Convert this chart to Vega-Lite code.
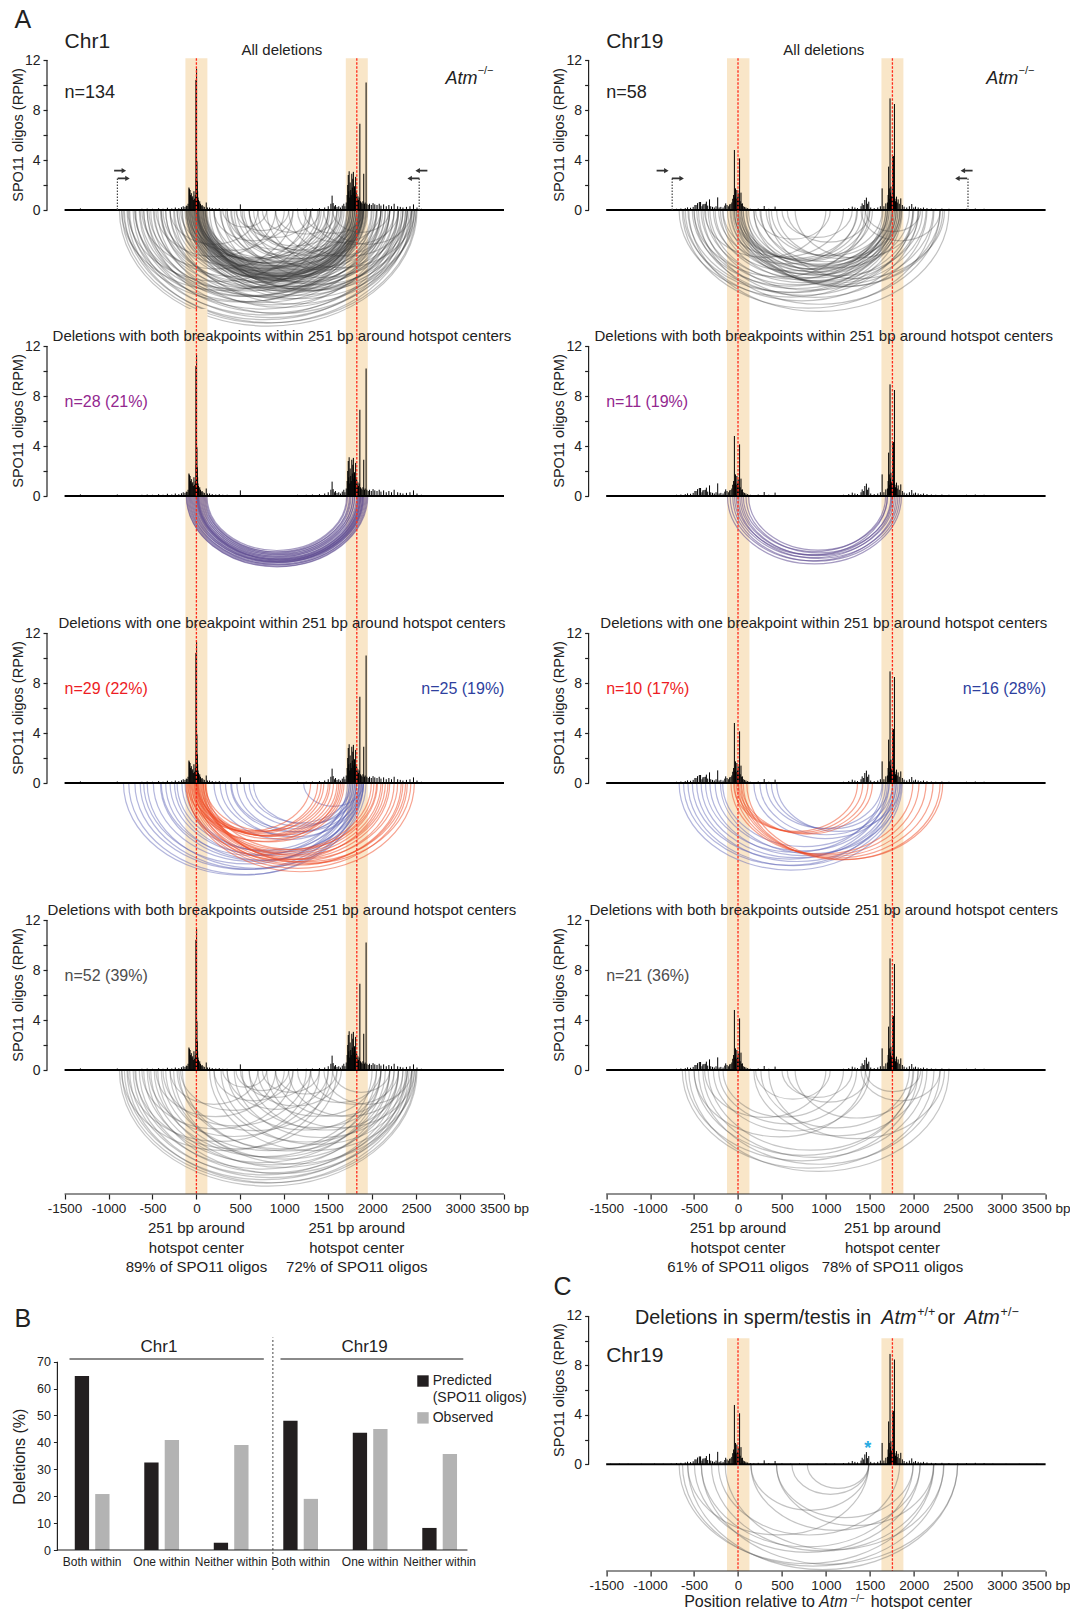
{
"$schema": "https://vega.github.io/schema/vega-lite/v6.json",
"background": "white",
"padding": {"left": 10, "top": 8, "right": 0, "bottom": 0},
"config": {"view": {"stroke": null}, "font": "Liberation Sans", "text": {"color": "#222"}},
"bounds": "flush",
"align": "each",
"columns": 2,
"spacing": {"row": 0, "column": 84.6},
"datasets": {
"bands1": [{"lo": -125, "hi": 125}, {"lo": 1700, "hi": 1950}],
"bands19": [{"lo": -125, "hi": 130}, {"lo": 1632, "hi": 1882}],
"ctr1": [{"c": 0}, {"c": 1825}],
"ctr19": [{"c": 0}, {"c": 1757}],
"sp1": [
{"pos":-1450,"v":0.05},{"pos":-1320,"v":0.13},{"pos":-1150,"v":0.05},{"pos":-980,"v":0.08},{"pos":-900,"v":0.12},{"pos":-820,"v":0.06},{"pos":-700,"v":0.08},{"pos":-620,"v":0.1},{"pos":-560,"v":0.12},{"pos":-500,"v":0.1},{"pos":-430,"v":0.15},{"pos":-380,"v":0.1},{"pos":-330,"v":0.18},{"pos":-280,"v":0.12},{"pos":-240,"v":0.2},{"pos":-200,"v":0.15},{"pos":-170,"v":0.22},{"pos":-150,"v":0.3},{"pos":-130,"v":0.25},{"pos":-115,"v":0.35},{"pos":-106,"v":0.32},{"pos":-95,"v":0.5},{"pos":-85,"v":1.8},{"pos":-80,"v":1.7},{"pos":-72,"v":1.6},{"pos":-65,"v":1.2},{"pos":-58,"v":1.35},{"pos":-50,"v":1.0},{"pos":-42,"v":1.1},{"pos":-35,"v":0.8},{"pos":-28,"v":1.5},{"pos":-20,"v":0.9},{"pos":-12,"v":1.2},{"pos":-6,"v":10.4},{"pos":-2,"v":2.5},{"pos":2,"v":11.3},{"pos":6,"v":3.9},{"pos":10,"v":2.3},{"pos":14,"v":1.5},{"pos":18,"v":1.0},{"pos":24,"v":0.8},{"pos":30,"v":0.6},{"pos":38,"v":0.7},{"pos":46,"v":0.5},{"pos":55,"v":0.35},{"pos":65,"v":0.4},{"pos":75,"v":0.3},{"pos":90,"v":0.25},{"pos":112,"v":0.6},{"pos":125,"v":0.2},{"pos":150,"v":0.2},{"pos":180,"v":0.15},{"pos":220,"v":0.12},{"pos":260,"v":0.15},{"pos":300,"v":0.1},{"pos":350,"v":0.1},{"pos":400,"v":0.08},{"pos":500,"v":0.45},{"pos":560,"v":0.08},{"pos":650,"v":0.06},{"pos":750,"v":0.05},{"pos":850,"v":0.08},{"pos":950,"v":0.06},{"pos":1050,"v":0.08},{"pos":1150,"v":0.1},{"pos":1250,"v":0.1},{"pos":1320,"v":0.12},{"pos":1400,"v":0.15},{"pos":1460,"v":0.2},{"pos":1500,"v":0.3},{"pos":1530,"v":0.5},{"pos":1544,"v":1.15},{"pos":1556,"v":0.55},{"pos":1570,"v":0.3},{"pos":1582,"v":0.4},{"pos":1600,"v":0.25},{"pos":1620,"v":0.3},{"pos":1640,"v":0.2},{"pos":1660,"v":0.35},{"pos":1677,"v":0.5},{"pos":1690,"v":0.3},{"pos":1705,"v":0.6},{"pos":1715,"v":1.2},{"pos":1722,"v":2.0},{"pos":1728,"v":2.8},{"pos":1734,"v":1.5},{"pos":1738,"v":3.1},{"pos":1745,"v":1.0},{"pos":1750,"v":2.2},{"pos":1756,"v":1.6},{"pos":1762,"v":1.2},{"pos":1768,"v":2.9},{"pos":1774,"v":1.8},{"pos":1780,"v":2.5},{"pos":1786,"v":3.05},{"pos":1792,"v":1.4},{"pos":1799,"v":1.9},{"pos":1806,"v":1.2},{"pos":1812,"v":2.65},{"pos":1818,"v":1.5},{"pos":1825,"v":1.3},{"pos":1832,"v":0.9},{"pos":1838,"v":1.1},{"pos":1844,"v":0.8},{"pos":1852,"v":1.0},{"pos":1860,"v":6.9},{"pos":1868,"v":0.7},{"pos":1876,"v":0.6},{"pos":1885,"v":0.5},{"pos":1895,"v":0.7},{"pos":1904,"v":2.9},{"pos":1912,"v":0.5},{"pos":1920,"v":0.6},{"pos":1931,"v":10.2},{"pos":1940,"v":0.5},{"pos":1955,"v":0.4},{"pos":1970,"v":0.5},{"pos":1990,"v":0.4},{"pos":2010,"v":0.55},{"pos":2030,"v":0.45},{"pos":2055,"v":0.4},{"pos":2080,"v":0.5},{"pos":2100,"v":0.35},{"pos":2130,"v":0.45},{"pos":2160,"v":0.3},{"pos":2190,"v":0.4},{"pos":2220,"v":0.3},{"pos":2250,"v":0.5},{"pos":2290,"v":0.3},{"pos":2320,"v":0.25},{"pos":2350,"v":0.2},{"pos":2390,"v":0.25},{"pos":2430,"v":0.3},{"pos":2470,"v":0.45},{"pos":2510,"v":0.2},{"pos":2560,"v":0.1},{"pos":2650,"v":0.08},{"pos":2800,"v":0.06},{"pos":2950,"v":0.05},{"pos":3100,"v":0.05},{"pos":3300,"v":0.06},{"pos":3450,"v":0.05}
],
"sp19": [
{"pos":-1450,"v":0.05},{"pos":-1350,"v":0.06},{"pos":-1250,"v":0.05},{"pos":-1100,"v":0.05},{"pos":-950,"v":0.06},{"pos":-850,"v":0.05},{"pos":-760,"v":0.06},{"pos":-700,"v":0.1},{"pos":-650,"v":0.12},{"pos":-600,"v":0.15},{"pos":-574,"v":0.21},{"pos":-540,"v":0.18},{"pos":-510,"v":0.25},{"pos":-490,"v":0.4},{"pos":-477,"v":0.4},{"pos":-460,"v":0.55},{"pos":-440,"v":0.64},{"pos":-426,"v":0.64},{"pos":-410,"v":0.3},{"pos":-400,"v":0.45},{"pos":-387,"v":0.48},{"pos":-372,"v":0.5},{"pos":-360,"v":0.67},{"pos":-345,"v":0.35},{"pos":-324,"v":0.85},{"pos":-310,"v":0.3},{"pos":-290,"v":0.25},{"pos":-270,"v":0.2},{"pos":-250,"v":0.3},{"pos":-231,"v":1.01},{"pos":-215,"v":0.2},{"pos":-195,"v":0.25},{"pos":-170,"v":0.2},{"pos":-150,"v":0.35},{"pos":-140,"v":0.53},{"pos":-125,"v":0.4},{"pos":-110,"v":0.3},{"pos":-95,"v":0.45},{"pos":-81,"v":0.48},{"pos":-70,"v":0.6},{"pos":-60,"v":0.9},{"pos":-50,"v":1.2},{"pos":-41,"v":4.8},{"pos":-35,"v":1.0},{"pos":-29,"v":1.73},{"pos":-22,"v":0.9},{"pos":-13,"v":1.6},{"pos":-6,"v":1.0},{"pos":3,"v":1.33},{"pos":10,"v":0.8},{"pos":18,"v":4.13},{"pos":25,"v":0.7},{"pos":34,"v":1.39},{"pos":42,"v":0.5},{"pos":50,"v":0.53},{"pos":60,"v":0.3},{"pos":75,"v":0.25},{"pos":90,"v":0.2},{"pos":110,"v":0.15},{"pos":140,"v":0.1},{"pos":180,"v":0.08},{"pos":230,"v":0.12},{"pos":298,"v":0.32},{"pos":350,"v":0.1},{"pos":422,"v":0.27},{"pos":500,"v":0.08},{"pos":600,"v":0.06},{"pos":700,"v":0.08},{"pos":800,"v":0.06},{"pos":900,"v":0.05},{"pos":1000,"v":0.08},{"pos":1100,"v":0.06},{"pos":1200,"v":0.1},{"pos":1260,"v":0.15},{"pos":1300,"v":0.27},{"pos":1330,"v":0.2},{"pos":1360,"v":0.15},{"pos":1400,"v":0.3},{"pos":1413,"v":0.53},{"pos":1430,"v":0.4},{"pos":1443,"v":0.8},{"pos":1461,"v":0.99},{"pos":1475,"v":0.5},{"pos":1488,"v":0.67},{"pos":1510,"v":0.2},{"pos":1550,"v":0.15},{"pos":1590,"v":0.2},{"pos":1620,"v":0.3},{"pos":1640,"v":1.73},{"pos":1660,"v":0.3},{"pos":1682,"v":0.53},{"pos":1700,"v":0.6},{"pos":1708,"v":1.2},{"pos":1714,"v":3.47},{"pos":1721,"v":1.73},{"pos":1727,"v":0.9},{"pos":1730,"v":8.93},{"pos":1735,"v":1.4},{"pos":1740,"v":1.87},{"pos":1746,"v":1.1},{"pos":1752,"v":0.8},{"pos":1760,"v":4.27},{"pos":1766,"v":1.3},{"pos":1770,"v":4.32},{"pos":1775,"v":1.0},{"pos":1780,"v":8.48},{"pos":1786,"v":0.9},{"pos":1792,"v":0.7},{"pos":1803,"v":1.07},{"pos":1812,"v":0.6},{"pos":1822,"v":0.85},{"pos":1835,"v":0.5},{"pos":1852,"v":0.93},{"pos":1870,"v":0.4},{"pos":1890,"v":0.27},{"pos":1920,"v":0.2},{"pos":1950,"v":0.3},{"pos":1977,"v":0.48},{"pos":2000,"v":0.2},{"pos":2020,"v":0.27},{"pos":2050,"v":0.2},{"pos":2080,"v":0.15},{"pos":2110,"v":0.2},{"pos":2150,"v":0.15},{"pos":2200,"v":0.12},{"pos":2250,"v":0.1},{"pos":2320,"v":0.12},{"pos":2400,"v":0.1},{"pos":2500,"v":0.08},{"pos":2600,"v":0.1},{"pos":2700,"v":0.12},{"pos":2800,"v":0.1},{"pos":2900,"v":0.06},{"pos":3050,"v":0.05},{"pos":3200,"v":0.05},{"pos":3400,"v":0.05}
],
"arc1": [
{"cat":"both","start":-115,"len":2065},{"cat":"both","start":-110,"len":2050},{"cat":"both","start":-100,"len":2020},{"cat":"both","start":-90,"len":1990},{"cat":"both","start":-80,"len":1950},{"cat":"both","start":-70,"len":2000},{"cat":"both","start":-60,"len":1910},{"cat":"both","start":-50,"len":1940},{"cat":"both","start":-40,"len":1920},{"cat":"both","start":-30,"len":1890},{"cat":"both","start":-20,"len":1930},{"cat":"both","start":-10,"len":1850},{"cat":"both","start":0,"len":1900},{"cat":"both","start":5,"len":1825},{"cat":"both","start":10,"len":1860},{"cat":"both","start":15,"len":1785},{"cat":"both","start":20,"len":1870},{"cat":"both","start":25,"len":1835},{"cat":"both","start":30,"len":1750},{"cat":"both","start":40,"len":1800},{"cat":"both","start":50,"len":1710},{"cat":"both","start":60,"len":1760},{"cat":"both","start":70,"len":1670},{"cat":"both","start":80,"len":1720},{"cat":"both","start":90,"len":1630},{"cat":"both","start":100,"len":1680},{"cat":"both","start":110,"len":1640},{"cat":"both","start":120,"len":1590},
{"cat":"red","start":-100,"len":1400},{"cat":"red","start":-60,"len":1440},{"cat":"red","start":-20,"len":1470},{"cat":"red","start":0,"len":1520},{"cat":"red","start":20,"len":1540},{"cat":"red","start":50,"len":1550},{"cat":"red","start":80,"len":1560},{"cat":"red","start":-40,"len":1720},{"cat":"red","start":10,"len":1410},{"cat":"red","start":100,"len":1400},{"cat":"red","start":-80,"len":1700},{"cat":"red","start":30,"len":1630},{"cat":"red","start":-110,"len":2590},{"cat":"red","start":-90,"len":2490},{"cat":"red","start":-70,"len":2400},{"cat":"red","start":-50,"len":2300},{"cat":"red","start":-30,"len":2230},{"cat":"red","start":-10,"len":2160},{"cat":"red","start":0,"len":2100},{"cat":"red","start":10,"len":2050},{"cat":"red","start":20,"len":2000},{"cat":"red","start":40,"len":1950},{"cat":"red","start":60,"len":2230},{"cat":"red","start":80,"len":2300},{"cat":"red","start":100,"len":2340},{"cat":"red","start":-120,"len":2240},{"cat":"red","start":70,"len":2110},{"cat":"red","start":110,"len":1940},{"cat":"red","start":-20,"len":2370},
{"cat":"blue","start":-830,"len":2690},{"cat":"blue","start":-770,"len":2670},{"cat":"blue","start":-700,"len":2520},{"cat":"blue","start":-640,"len":2520},{"cat":"blue","start":-600,"len":2360},{"cat":"blue","start":-560,"len":2490},{"cat":"blue","start":-490,"len":2290},{"cat":"blue","start":-410,"len":2260},{"cat":"blue","start":-400,"len":2120},{"cat":"blue","start":-350,"len":2250},{"cat":"blue","start":-300,"len":2080},{"cat":"blue","start":-250,"len":2120},{"cat":"blue","start":-220,"len":1960},{"cat":"blue","start":-165,"len":1985},{"cat":"blue","start":-130,"len":2030},{"cat":"blue","start":200,"len":1650},{"cat":"blue","start":270,"len":1510},{"cat":"blue","start":330,"len":1570},{"cat":"blue","start":390,"len":1430},{"cat":"blue","start":400,"len":1340},{"cat":"blue","start":460,"len":1420},{"cat":"blue","start":540,"len":1260},{"cat":"blue","start":600,"len":1160},{"cat":"blue","start":650,"len":1200},{"cat":"blue","start":1220,"len":680},
{"cat":"neither","start":-876,"len":3387},{"cat":"neither","start":-850,"len":3300},{"cat":"neither","start":-820,"len":3200},{"cat":"neither","start":-790,"len":3290},{"cat":"neither","start":-760,"len":3060},{"cat":"neither","start":-720,"len":3140},{"cat":"neither","start":-690,"len":2890},{"cat":"neither","start":-650,"len":3000},{"cat":"neither","start":-600,"len":2700},{"cat":"neither","start":-560,"len":3020},{"cat":"neither","start":-520,"len":2770},{"cat":"neither","start":-480,"len":2530},{"cat":"neither","start":-440,"len":2840},{"cat":"neither","start":-400,"len":2550},{"cat":"neither","start":-350,"len":2350},{"cat":"neither","start":-300,"len":2600},{"cat":"neither","start":-260,"len":2740},{"cat":"neither","start":-200,"len":2300},{"cat":"neither","start":-160,"len":2360},{"cat":"neither","start":-850,"len":2350},{"cat":"neither","start":-780,"len":2080},{"cat":"neither","start":-700,"len":2300},{"cat":"neither","start":-620,"len":1720},{"cat":"neither","start":-540,"len":1940},{"cat":"neither","start":-460,"len":1360},{"cat":"neither","start":-380,"len":1630},{"cat":"neither","start":-300,"len":1000},{"cat":"neither","start":-220,"len":1770},{"cat":"neither","start":-180,"len":1180},{"cat":"neither","start":150,"len":2350},{"cat":"neither","start":200,"len":2100},{"cat":"neither","start":280,"len":2170},{"cat":"neither","start":350,"len":1750},{"cat":"neither","start":430,"len":1970},{"cat":"neither","start":520,"len":1680},{"cat":"neither","start":600,"len":1750},{"cat":"neither","start":700,"len":1350},{"cat":"neither","start":800,"len":1680},{"cat":"neither","start":900,"len":1350},{"cat":"neither","start":1050,"len":1350},{"cat":"neither","start":1150,"len":950},{"cat":"neither","start":1300,"len":1000},{"cat":"neither","start":1450,"len":1000},{"cat":"neither","start":1550,"len":650},{"cat":"neither","start":200,"len":900},{"cat":"neither","start":350,"len":1150},{"cat":"neither","start":500,"len":800},{"cat":"neither","start":600,"len":1050},{"cat":"neither","start":750,"len":650},{"cat":"neither","start":300,"len":500},{"cat":"neither","start":900,"len":700},{"cat":"neither","start":450,"len":600}
],
"arc19": [
{"cat":"both","start":-120,"len":1980},{"cat":"both","start":-90,"len":1890},{"cat":"both","start":-60,"len":1900},{"cat":"both","start":-40,"len":1800},{"cat":"both","start":-20,"len":1720},{"cat":"both","start":0,"len":1820},{"cat":"both","start":20,"len":1720},{"cat":"both","start":40,"len":1740},{"cat":"both","start":60,"len":1620},{"cat":"both","start":90,"len":1660},{"cat":"both","start":120,"len":1580},
{"cat":"red","start":-50,"len":1410},{"cat":"red","start":-20,"len":1440},{"cat":"red","start":10,"len":1470},{"cat":"red","start":40,"len":1490},{"cat":"red","start":-80,"len":2070},{"cat":"red","start":-40,"len":2100},{"cat":"red","start":0,"len":2140},{"cat":"red","start":30,"len":2190},{"cat":"red","start":60,"len":2240},{"cat":"red","start":100,"len":2230},
{"cat":"blue","start":-670,"len":2540},{"cat":"blue","start":-620,"len":2400},{"cat":"blue","start":-570,"len":2410},{"cat":"blue","start":-520,"len":2220},{"cat":"blue","start":-470,"len":2290},{"cat":"blue","start":-420,"len":2180},{"cat":"blue","start":-370,"len":2020},{"cat":"blue","start":-320,"len":2120},{"cat":"blue","start":-260,"len":1980},{"cat":"blue","start":-200,"len":2060},{"cat":"blue","start":-175,"len":1855},{"cat":"blue","start":180,"len":1620},{"cat":"blue","start":250,"len":1510},{"cat":"blue","start":380,"len":1340},{"cat":"blue","start":440,"len":1410},{"cat":"blue","start":320,"len":1320},
{"cat":"neither","start":-634,"len":2864},{"cat":"neither","start":-600,"len":2650},{"cat":"neither","start":-560,"len":2960},{"cat":"neither","start":-500,"len":2490},{"cat":"neither","start":-450,"len":2750},{"cat":"neither","start":-400,"len":2550},{"cat":"neither","start":-340,"len":2340},{"cat":"neither","start":-280,"len":1780},{"cat":"neither","start":-220,"len":1570},{"cat":"neither","start":-170,"len":1370},{"cat":"neither","start":-500,"len":1950},{"cat":"neither","start":180,"len":1920},{"cat":"neither","start":260,"len":1690},{"cat":"neither","start":350,"len":2000},{"cat":"neither","start":500,"len":800},{"cat":"neither","start":560,"len":940},{"cat":"neither","start":650,"len":1400},{"cat":"neither","start":1400,"len":900},{"cat":"neither","start":1450,"len":630},{"cat":"neither","start":-380,"len":1380},{"cat":"neither","start":200,"len":850}
],
"arcC": [
{"start":-670,"len":2900},{"start":-632,"len":2972},{"start":-573,"len":3072},{"start":-496,"len":2568},{"start":-418,"len":2411},{"start":-302,"len":2528},{"start":-223,"len":2062},{"start":-146,"len":2490},{"start":147,"len":1341},{"start":438,"len":1555},{"start":613,"len":875},{"start":788,"len":700},{"start":-573,"len":2061},{"start":-418,"len":2917},{"start":147,"len":1925},{"start":438,"len":1788}
],
"bdata": [
{"grp":"Chr1|Both within","type":"Predicted","pct":64.7},{"grp":"Chr1|Both within","type":"Observed","pct":20.8},
{"grp":"Chr1|One within","type":"Predicted","pct":32.5},{"grp":"Chr1|One within","type":"Observed","pct":40.9},
{"grp":"Chr1|Neither within","type":"Predicted","pct":2.7},{"grp":"Chr1|Neither within","type":"Observed","pct":39.0},
{"grp":"Chr19|Both within","type":"Predicted","pct":48.0},{"grp":"Chr19|Both within","type":"Observed","pct":19.0},
{"grp":"Chr19|One within","type":"Predicted","pct":43.6},{"grp":"Chr19|One within","type":"Observed","pct":45.0},
{"grp":"Chr19|Neither within","type":"Predicted","pct":8.2},{"grp":"Chr19|Neither within","type":"Observed","pct":35.7}
]
},
"concat": [
{
"width": 457, "height": 286,
"resolve": {"axis": {"x": "independent", "y": "independent"}},
"layer": [
{"data": {"name": "bands1"}, "mark": {"type": "rect", "color": "#f9e6c8"},
 "encoding": {"x": {"field": "lo", "type": "quantitative", "scale": {"domain": [-1700, 3500], "nice": false, "zero": false}, "axis": null}, "x2": {"field": "hi"},
 "y": {"datum": 12.15, "type": "quantitative", "scale": {"domain": [-7.92, 14.96], "nice": false, "zero": false}, "axis": {"values": [0,2,4,6,8,10,12], "labelExpr": "datum.value % 4 === 0 ? datum.label : ''", "domain": false, "grid": false, "title": null, "tickSize": 4, "tickColor": "#222", "tickWidth": 1.2, "labelPadding": 3, "labelFontSize": 14, "labelColor": "#222", "labelOverlap": false}},
 "y2": {"datum": -7.92}}},
{"data": {"name": "arc1"}, "mark": {"type": "point", "shape": "M0 0C0 0.431 0.448 0.78 1 0.78C1.552 0.78 2 0.431 2 0", "filled": false, "color": "#333", "opacity": 0.3, "strokeWidth": 1.2},
 "encoding": {"x": {"field": "start", "type": "quantitative", "axis": null}, "y": {"datum": 0, "type": "quantitative", "axis": null}, "size": {"field": "len", "type": "quantitative", "scale": {"type": "pow", "exponent": 2, "domain": [0, 5200], "range": [0, 208849]}, "legend": null}}},
{"data": {"name": "sp1"}, "mark": {"type": "rule", "color": "#000", "strokeWidth": 1}, "encoding": {"x": {"field": "pos", "type": "quantitative", "axis": null}, "y": {"field": "v", "type": "quantitative", "axis": null}, "y2": {"datum": 0}}},
{"data": {"values": [{}]}, "mark": {"type": "rule", "color": "#000", "strokeWidth": 2}, "encoding": {"x": {"datum": -1500, "type": "quantitative", "axis": null}, "x2": {"datum": 3500}, "y": {"datum": 0, "type": "quantitative", "axis": null}}},
{"data": {"name": "ctr1"}, "mark": {"type": "rule", "color": "#ff2a1a", "strokeWidth": 1.3, "strokeDash": [2.5, 1.5]}, "encoding": {"x": {"field": "c", "type": "quantitative", "axis": null}, "y": {"datum": 12.15, "type": "quantitative", "axis": null}, "y2": {"datum": -7.92}}},
{"data": {"values": [{}]}, "mark": {"type": "rule", "color": "#222", "strokeWidth": 1.2}, "encoding": {"x": {"datum": -1700, "type": "quantitative", "axis": null}, "y": {"datum": 0, "type": "quantitative", "axis": null}, "y2": {"datum": 12}}},
{"data": {"values": [{}]}, "mark": {"type": "rule", "color": "#444", "strokeWidth": 1.2, "strokeDash": [1.5, 1.5]}, "encoding": {"x": {"datum": -899, "type": "quantitative", "axis": null}, "y": {"datum": 0, "type": "quantitative", "axis": null}, "y2": {"datum": 2.53}}},
{"data": {"values": [{}]}, "mark": {"type": "rule", "color": "#444", "strokeWidth": 1.2, "strokeDash": [1.5, 1.5]}, "encoding": {"x": {"datum": 2535, "type": "quantitative", "axis": null}, "y": {"datum": 0, "type": "quantitative", "axis": null}, "y2": {"datum": 2.53}}},
{"data": {"values": [{}]}, "mark": {"type": "point", "shape": "M-1 -0.13L0.25 -0.13L0.25 -0.45L1 0L0.25 0.45L0.25 0.13L-1 0.13Z", "filled": true, "size": 144, "color": "#333", "opacity": 1}, "encoding": {"x": {"datum": -868, "type": "quantitative", "axis": null}, "y": {"datum": 3.15, "type": "quantitative", "axis": null}}},
{"data": {"values": [{}]}, "mark": {"type": "point", "shape": "M-1 -0.13L0.25 -0.13L0.25 -0.45L1 0L0.25 0.45L0.25 0.13L-1 0.13Z", "filled": true, "size": 144, "color": "#333", "opacity": 1}, "encoding": {"x": {"datum": -827, "type": "quantitative", "axis": null}, "y": {"datum": 2.53, "type": "quantitative", "axis": null}}},
{"data": {"values": [{}]}, "mark": {"type": "point", "shape": "M1 -0.13L-0.25 -0.13L-0.25 -0.45L-1 0L-0.25 0.45L-0.25 0.13L1 0.13Z", "filled": true, "size": 144, "color": "#333", "opacity": 1}, "encoding": {"x": {"datum": 2560, "type": "quantitative", "axis": null}, "y": {"datum": 3.15, "type": "quantitative", "axis": null}}},
{"data": {"values": [{}]}, "mark": {"type": "point", "shape": "M1 -0.13L-0.25 -0.13L-0.25 -0.45L-1 0L-0.25 0.45L-0.25 0.13L1 0.13Z", "filled": true, "size": 144, "color": "#333", "opacity": 1}, "encoding": {"x": {"datum": 2469, "type": "quantitative", "axis": null}, "y": {"datum": 2.53, "type": "quantitative", "axis": null}}},
{"data": {"values": [{}]}, "mark": {"type": "text", "fontSize": 25, "align": "left", "baseline": "alphabetic"}, "encoding": {"x": {"datum": -2071, "type": "quantitative", "axis": null}, "y": {"datum": 14.54, "type": "quantitative", "axis": null}, "text": {"value": "A"}}},
{"data": {"values": [{}]}, "mark": {"type": "text", "fontSize": 21, "align": "left", "baseline": "middle"}, "encoding": {"x": {"datum": -1500, "type": "quantitative", "axis": null}, "y": {"datum": 13.46, "type": "quantitative", "axis": null}, "text": {"value": "Chr1"}}},
{"data": {"values": [{}]}, "mark": {"type": "text", "fontSize": 15, "align": "center", "baseline": "middle"}, "encoding": {"x": {"datum": 973, "type": "quantitative", "axis": null}, "y": {"datum": 12.8, "type": "quantitative", "axis": null}, "text": {"value": "All deletions"}}},
{"data": {"values": [{}]}, "mark": {"type": "text", "fontSize": 18, "align": "left", "baseline": "middle"}, "encoding": {"x": {"datum": -1500, "type": "quantitative", "axis": null}, "y": {"datum": 9.36, "type": "quantitative", "axis": null}, "text": {"value": "n=134"}}},
{"data": {"values": [{}]}, "mark": {"type": "text", "fontSize": 18, "fontStyle": "italic", "align": "left", "baseline": "middle"}, "encoding": {"x": {"datum": 2833, "type": "quantitative", "axis": null}, "y": {"datum": 10.48, "type": "quantitative", "axis": null}, "text": {"value": "Atm"}}},
{"data": {"values": [{}]}, "mark": {"type": "text", "fontSize": 11, "align": "left", "baseline": "middle"}, "encoding": {"x": {"datum": 3200, "type": "quantitative", "axis": null}, "y": {"datum": 11.1, "type": "quantitative", "axis": null}, "text": {"value": "−/−"}}},
{"data": {"values": [{}]}, "mark": {"type": "text", "fontSize": 14.5, "angle": 270, "align": "center", "baseline": "middle"}, "encoding": {"x": {"datum": -2020, "type": "quantitative", "axis": null}, "y": {"datum": 6, "type": "quantitative", "axis": null}, "text": {"value": "SPO11 oligos (RPM)"}}}
]
},
{
"width": 457, "height": 286,
"resolve": {"axis": {"x": "independent", "y": "independent"}},
"layer": [
{"data": {"name": "bands19"}, "mark": {"type": "rect", "color": "#f9e6c8"},
 "encoding": {"x": {"field": "lo", "type": "quantitative", "scale": {"domain": [-1700, 3500], "nice": false, "zero": false}, "axis": null}, "x2": {"field": "hi"},
 "y": {"datum": 12.15, "type": "quantitative", "scale": {"domain": [-7.92, 14.96], "nice": false, "zero": false}, "axis": {"values": [0,2,4,6,8,10,12], "labelExpr": "datum.value % 4 === 0 ? datum.label : ''", "domain": false, "grid": false, "title": null, "tickSize": 4, "tickColor": "#222", "tickWidth": 1.2, "labelPadding": 3, "labelFontSize": 14, "labelColor": "#222", "labelOverlap": false}},
 "y2": {"datum": -7.92}}},
{"data": {"name": "arc19"}, "mark": {"type": "point", "shape": "M0 0C0 0.431 0.448 0.78 1 0.78C1.552 0.78 2 0.431 2 0", "filled": false, "color": "#333", "opacity": 0.3, "strokeWidth": 1.2},
 "encoding": {"x": {"field": "start", "type": "quantitative", "axis": null}, "y": {"datum": 0, "type": "quantitative", "axis": null}, "size": {"field": "len", "type": "quantitative", "scale": {"type": "pow", "exponent": 2, "domain": [0, 5200], "range": [0, 208849]}, "legend": null}}},
{"data": {"name": "sp19"}, "mark": {"type": "rule", "color": "#000", "strokeWidth": 1}, "encoding": {"x": {"field": "pos", "type": "quantitative", "axis": null}, "y": {"field": "v", "type": "quantitative", "axis": null}, "y2": {"datum": 0}}},
{"data": {"values": [{}]}, "mark": {"type": "rule", "color": "#000", "strokeWidth": 2}, "encoding": {"x": {"datum": -1500, "type": "quantitative", "axis": null}, "x2": {"datum": 3500}, "y": {"datum": 0, "type": "quantitative", "axis": null}}},
{"data": {"name": "ctr19"}, "mark": {"type": "rule", "color": "#ff2a1a", "strokeWidth": 1.3, "strokeDash": [2.5, 1.5]}, "encoding": {"x": {"field": "c", "type": "quantitative", "axis": null}, "y": {"datum": 12.15, "type": "quantitative", "axis": null}, "y2": {"datum": -7.92}}},
{"data": {"values": [{}]}, "mark": {"type": "rule", "color": "#222", "strokeWidth": 1.2}, "encoding": {"x": {"datum": -1700, "type": "quantitative", "axis": null}, "y": {"datum": 0, "type": "quantitative", "axis": null}, "y2": {"datum": 12}}},
{"data": {"values": [{}]}, "mark": {"type": "rule", "color": "#444", "strokeWidth": 1.2, "strokeDash": [1.5, 1.5]}, "encoding": {"x": {"datum": -749, "type": "quantitative", "axis": null}, "y": {"datum": 0, "type": "quantitative", "axis": null}, "y2": {"datum": 2.53}}},
{"data": {"values": [{}]}, "mark": {"type": "rule", "color": "#444", "strokeWidth": 1.2, "strokeDash": [1.5, 1.5]}, "encoding": {"x": {"datum": 2617, "type": "quantitative", "axis": null}, "y": {"datum": 0, "type": "quantitative", "axis": null}, "y2": {"datum": 2.53}}},
{"data": {"values": [{}]}, "mark": {"type": "point", "shape": "M-1 -0.13L0.25 -0.13L0.25 -0.45L1 0L0.25 0.45L0.25 0.13L-1 0.13Z", "filled": true, "size": 144, "color": "#333", "opacity": 1}, "encoding": {"x": {"datum": -858, "type": "quantitative", "axis": null}, "y": {"datum": 3.15, "type": "quantitative", "axis": null}}},
{"data": {"values": [{}]}, "mark": {"type": "point", "shape": "M-1 -0.13L0.25 -0.13L0.25 -0.45L1 0L0.25 0.45L0.25 0.13L-1 0.13Z", "filled": true, "size": 144, "color": "#333", "opacity": 1}, "encoding": {"x": {"datum": -684, "type": "quantitative", "axis": null}, "y": {"datum": 2.53, "type": "quantitative", "axis": null}}},
{"data": {"values": [{}]}, "mark": {"type": "point", "shape": "M1 -0.13L-0.25 -0.13L-0.25 -0.45L-1 0L-0.25 0.45L-0.25 0.13L1 0.13Z", "filled": true, "size": 144, "color": "#333", "opacity": 1}, "encoding": {"x": {"datum": 2601, "type": "quantitative", "axis": null}, "y": {"datum": 3.15, "type": "quantitative", "axis": null}}},
{"data": {"values": [{}]}, "mark": {"type": "point", "shape": "M1 -0.13L-0.25 -0.13L-0.25 -0.45L-1 0L-0.25 0.45L-0.25 0.13L1 0.13Z", "filled": true, "size": 144, "color": "#333", "opacity": 1}, "encoding": {"x": {"datum": 2539, "type": "quantitative", "axis": null}, "y": {"datum": 2.53, "type": "quantitative", "axis": null}}},
{"data": {"values": [{}]}, "mark": {"type": "text", "fontSize": 21, "align": "left", "baseline": "middle"}, "encoding": {"x": {"datum": -1500, "type": "quantitative", "axis": null}, "y": {"datum": 13.46, "type": "quantitative", "axis": null}, "text": {"value": "Chr19"}}},
{"data": {"values": [{}]}, "mark": {"type": "text", "fontSize": 15, "align": "center", "baseline": "middle"}, "encoding": {"x": {"datum": 976, "type": "quantitative", "axis": null}, "y": {"datum": 12.8, "type": "quantitative", "axis": null}, "text": {"value": "All deletions"}}},
{"data": {"values": [{}]}, "mark": {"type": "text", "fontSize": 18, "align": "left", "baseline": "middle"}, "encoding": {"x": {"datum": -1500, "type": "quantitative", "axis": null}, "y": {"datum": 9.36, "type": "quantitative", "axis": null}, "text": {"value": "n=58"}}},
{"data": {"values": [{}]}, "mark": {"type": "text", "fontSize": 18, "fontStyle": "italic", "align": "left", "baseline": "middle"}, "encoding": {"x": {"datum": 2825, "type": "quantitative", "axis": null}, "y": {"datum": 10.48, "type": "quantitative", "axis": null}, "text": {"value": "Atm"}}},
{"data": {"values": [{}]}, "mark": {"type": "text", "fontSize": 11, "align": "left", "baseline": "middle"}, "encoding": {"x": {"datum": 3192, "type": "quantitative", "axis": null}, "y": {"datum": 11.1, "type": "quantitative", "axis": null}, "text": {"value": "−/−"}}},
{"data": {"values": [{}]}, "mark": {"type": "text", "fontSize": 14.5, "angle": 270, "align": "center", "baseline": "middle"}, "encoding": {"x": {"datum": -2020, "type": "quantitative", "axis": null}, "y": {"datum": 6, "type": "quantitative", "axis": null}, "text": {"value": "SPO11 oligos (RPM)"}}}
]
},
{
"width": 457, "height": 287,
"resolve": {"axis": {"x": "independent", "y": "independent"}},
"layer": [
{"data": {"name": "bands1"}, "mark": {"type": "rect", "color": "#f9e6c8"},
 "encoding": {"x": {"field": "lo", "type": "quantitative", "scale": {"domain": [-1700, 3500], "nice": false, "zero": false}, "axis": null}, "x2": {"field": "hi"},
 "y": {"datum": 14.96, "type": "quantitative", "scale": {"domain": [-8, 14.96], "nice": false, "zero": false}, "axis": {"values": [0,2,4,6,8,10,12], "labelExpr": "datum.value % 4 === 0 ? datum.label : ''", "domain": false, "grid": false, "title": null, "tickSize": 4, "tickColor": "#222", "tickWidth": 1.2, "labelPadding": 3, "labelFontSize": 14, "labelColor": "#222", "labelOverlap": false}},
 "y2": {"datum": -8}}},
{"data": {"name": "arc1"}, "transform": [{"filter": "datum.cat === 'both'"}], "mark": {"type": "point", "shape": "M0 0C0 0.431 0.448 0.78 1 0.78C1.552 0.78 2 0.431 2 0", "filled": false, "color": "#5e4b91", "opacity": 0.55, "strokeWidth": 1.2},
 "encoding": {"x": {"field": "start", "type": "quantitative", "axis": null}, "y": {"datum": 0, "type": "quantitative", "axis": null}, "size": {"field": "len", "type": "quantitative", "scale": {"type": "pow", "exponent": 2, "domain": [0, 5200], "range": [0, 208849]}, "legend": null}}},
{"data": {"name": "sp1"}, "mark": {"type": "rule", "color": "#000", "strokeWidth": 1}, "encoding": {"x": {"field": "pos", "type": "quantitative", "axis": null}, "y": {"field": "v", "type": "quantitative", "axis": null}, "y2": {"datum": 0}}},
{"data": {"values": [{}]}, "mark": {"type": "rule", "color": "#000", "strokeWidth": 2}, "encoding": {"x": {"datum": -1500, "type": "quantitative", "axis": null}, "x2": {"datum": 3500}, "y": {"datum": 0, "type": "quantitative", "axis": null}}},
{"data": {"name": "ctr1"}, "mark": {"type": "rule", "color": "#ff2a1a", "strokeWidth": 1.3, "strokeDash": [2.5, 1.5]}, "encoding": {"x": {"field": "c", "type": "quantitative", "axis": null}, "y": {"datum": 14.96, "type": "quantitative", "axis": null}, "y2": {"datum": -8}}},
{"data": {"values": [{}]}, "mark": {"type": "rule", "color": "#222", "strokeWidth": 1.2}, "encoding": {"x": {"datum": -1700, "type": "quantitative", "axis": null}, "y": {"datum": 0, "type": "quantitative", "axis": null}, "y2": {"datum": 12}}},
{"data": {"values": [{}]}, "mark": {"type": "text", "fontSize": 15, "align": "center", "baseline": "middle"}, "encoding": {"x": {"datum": 973, "type": "quantitative", "axis": null}, "y": {"datum": 12.8, "type": "quantitative", "axis": null}, "text": {"value": "Deletions with both breakpoints within 251 bp around hotspot centers"}}},
{"data": {"values": [{}]}, "mark": {"type": "text", "fontSize": 16, "color": "#93278f", "align": "left", "baseline": "middle"}, "encoding": {"x": {"datum": -1500, "type": "quantitative", "axis": null}, "y": {"datum": 7.5, "type": "quantitative", "axis": null}, "text": {"value": "n=28 (21%)"}}},
{"data": {"values": [{}]}, "mark": {"type": "text", "fontSize": 14.5, "angle": 270, "align": "center", "baseline": "middle"}, "encoding": {"x": {"datum": -2020, "type": "quantitative", "axis": null}, "y": {"datum": 6, "type": "quantitative", "axis": null}, "text": {"value": "SPO11 oligos (RPM)"}}}
]
},
{
"width": 457, "height": 287,
"resolve": {"axis": {"x": "independent", "y": "independent"}},
"layer": [
{"data": {"name": "bands19"}, "mark": {"type": "rect", "color": "#f9e6c8"},
 "encoding": {"x": {"field": "lo", "type": "quantitative", "scale": {"domain": [-1700, 3500], "nice": false, "zero": false}, "axis": null}, "x2": {"field": "hi"},
 "y": {"datum": 14.96, "type": "quantitative", "scale": {"domain": [-8, 14.96], "nice": false, "zero": false}, "axis": {"values": [0,2,4,6,8,10,12], "labelExpr": "datum.value % 4 === 0 ? datum.label : ''", "domain": false, "grid": false, "title": null, "tickSize": 4, "tickColor": "#222", "tickWidth": 1.2, "labelPadding": 3, "labelFontSize": 14, "labelColor": "#222", "labelOverlap": false}},
 "y2": {"datum": -8}}},
{"data": {"name": "arc19"}, "transform": [{"filter": "datum.cat === 'both'"}], "mark": {"type": "point", "shape": "M0 0C0 0.431 0.448 0.78 1 0.78C1.552 0.78 2 0.431 2 0", "filled": false, "color": "#5e4b91", "opacity": 0.55, "strokeWidth": 1.2},
 "encoding": {"x": {"field": "start", "type": "quantitative", "axis": null}, "y": {"datum": 0, "type": "quantitative", "axis": null}, "size": {"field": "len", "type": "quantitative", "scale": {"type": "pow", "exponent": 2, "domain": [0, 5200], "range": [0, 208849]}, "legend": null}}},
{"data": {"name": "sp19"}, "mark": {"type": "rule", "color": "#000", "strokeWidth": 1}, "encoding": {"x": {"field": "pos", "type": "quantitative", "axis": null}, "y": {"field": "v", "type": "quantitative", "axis": null}, "y2": {"datum": 0}}},
{"data": {"values": [{}]}, "mark": {"type": "rule", "color": "#000", "strokeWidth": 2}, "encoding": {"x": {"datum": -1500, "type": "quantitative", "axis": null}, "x2": {"datum": 3500}, "y": {"datum": 0, "type": "quantitative", "axis": null}}},
{"data": {"name": "ctr19"}, "mark": {"type": "rule", "color": "#ff2a1a", "strokeWidth": 1.3, "strokeDash": [2.5, 1.5]}, "encoding": {"x": {"field": "c", "type": "quantitative", "axis": null}, "y": {"datum": 14.96, "type": "quantitative", "axis": null}, "y2": {"datum": -8}}},
{"data": {"values": [{}]}, "mark": {"type": "rule", "color": "#222", "strokeWidth": 1.2}, "encoding": {"x": {"datum": -1700, "type": "quantitative", "axis": null}, "y": {"datum": 0, "type": "quantitative", "axis": null}, "y2": {"datum": 12}}},
{"data": {"values": [{}]}, "mark": {"type": "text", "fontSize": 15, "align": "center", "baseline": "middle"}, "encoding": {"x": {"datum": 976, "type": "quantitative", "axis": null}, "y": {"datum": 12.8, "type": "quantitative", "axis": null}, "text": {"value": "Deletions with both breakpoints within 251 bp around hotspot centers"}}},
{"data": {"values": [{}]}, "mark": {"type": "text", "fontSize": 16, "color": "#93278f", "align": "left", "baseline": "middle"}, "encoding": {"x": {"datum": -1500, "type": "quantitative", "axis": null}, "y": {"datum": 7.5, "type": "quantitative", "axis": null}, "text": {"value": "n=11 (19%)"}}},
{"data": {"values": [{}]}, "mark": {"type": "text", "fontSize": 14.5, "angle": 270, "align": "center", "baseline": "middle"}, "encoding": {"x": {"datum": -2020, "type": "quantitative", "axis": null}, "y": {"datum": 6, "type": "quantitative", "axis": null}, "text": {"value": "SPO11 oligos (RPM)"}}}
]
},
{
"width": 457, "height": 287,
"resolve": {"axis": {"x": "independent", "y": "independent"}},
"layer": [
{"data": {"name": "bands1"}, "mark": {"type": "rect", "color": "#f9e6c8"},
 "encoding": {"x": {"field": "lo", "type": "quantitative", "scale": {"domain": [-1700, 3500], "nice": false, "zero": false}, "axis": null}, "x2": {"field": "hi"},
 "y": {"datum": 14.96, "type": "quantitative", "scale": {"domain": [-8, 14.96], "nice": false, "zero": false}, "axis": {"values": [0,2,4,6,8,10,12], "labelExpr": "datum.value % 4 === 0 ? datum.label : ''", "domain": false, "grid": false, "title": null, "tickSize": 4, "tickColor": "#222", "tickWidth": 1.2, "labelPadding": 3, "labelFontSize": 14, "labelColor": "#222", "labelOverlap": false}},
 "y2": {"datum": -8}}},
{"data": {"name": "arc1"}, "transform": [{"filter": "datum.cat === 'blue'"}], "mark": {"type": "point", "shape": "M0 0C0 0.431 0.448 0.78 1 0.78C1.552 0.78 2 0.431 2 0", "filled": false, "color": "#5a60b5", "opacity": 0.45, "strokeWidth": 1.2},
 "encoding": {"x": {"field": "start", "type": "quantitative", "axis": null}, "y": {"datum": 0, "type": "quantitative", "axis": null}, "size": {"field": "len", "type": "quantitative", "scale": {"type": "pow", "exponent": 2, "domain": [0, 5200], "range": [0, 208849]}, "legend": null}}},
{"data": {"name": "arc1"}, "transform": [{"filter": "datum.cat === 'red'"}], "mark": {"type": "point", "shape": "M0 0C0 0.431 0.448 0.78 1 0.78C1.552 0.78 2 0.431 2 0", "filled": false, "color": "#f04a24", "opacity": 0.5, "strokeWidth": 1.2},
 "encoding": {"x": {"field": "start", "type": "quantitative", "axis": null}, "y": {"datum": 0, "type": "quantitative", "axis": null}, "size": {"field": "len", "type": "quantitative", "scale": {"type": "pow", "exponent": 2, "domain": [0, 5200], "range": [0, 208849]}, "legend": null}}},
{"data": {"name": "sp1"}, "mark": {"type": "rule", "color": "#000", "strokeWidth": 1}, "encoding": {"x": {"field": "pos", "type": "quantitative", "axis": null}, "y": {"field": "v", "type": "quantitative", "axis": null}, "y2": {"datum": 0}}},
{"data": {"values": [{}]}, "mark": {"type": "rule", "color": "#000", "strokeWidth": 2}, "encoding": {"x": {"datum": -1500, "type": "quantitative", "axis": null}, "x2": {"datum": 3500}, "y": {"datum": 0, "type": "quantitative", "axis": null}}},
{"data": {"name": "ctr1"}, "mark": {"type": "rule", "color": "#ff2a1a", "strokeWidth": 1.3, "strokeDash": [2.5, 1.5]}, "encoding": {"x": {"field": "c", "type": "quantitative", "axis": null}, "y": {"datum": 14.96, "type": "quantitative", "axis": null}, "y2": {"datum": -8}}},
{"data": {"values": [{}]}, "mark": {"type": "rule", "color": "#222", "strokeWidth": 1.2}, "encoding": {"x": {"datum": -1700, "type": "quantitative", "axis": null}, "y": {"datum": 0, "type": "quantitative", "axis": null}, "y2": {"datum": 12}}},
{"data": {"values": [{}]}, "mark": {"type": "text", "fontSize": 15, "align": "center", "baseline": "middle"}, "encoding": {"x": {"datum": 973, "type": "quantitative", "axis": null}, "y": {"datum": 12.8, "type": "quantitative", "axis": null}, "text": {"value": "Deletions with one breakpoint within 251 bp around hotspot centers"}}},
{"data": {"values": [{}]}, "mark": {"type": "text", "fontSize": 16, "color": "#ed1c24", "align": "left", "baseline": "middle"}, "encoding": {"x": {"datum": -1500, "type": "quantitative", "axis": null}, "y": {"datum": 7.5, "type": "quantitative", "axis": null}, "text": {"value": "n=29 (22%)"}}},
{"data": {"values": [{}]}, "mark": {"type": "text", "fontSize": 16, "color": "#2e3f9e", "align": "right", "baseline": "middle"}, "encoding": {"x": {"datum": 3505, "type": "quantitative", "axis": null}, "y": {"datum": 7.5, "type": "quantitative", "axis": null}, "text": {"value": "n=25 (19%)"}}},
{"data": {"values": [{}]}, "mark": {"type": "text", "fontSize": 14.5, "angle": 270, "align": "center", "baseline": "middle"}, "encoding": {"x": {"datum": -2020, "type": "quantitative", "axis": null}, "y": {"datum": 6, "type": "quantitative", "axis": null}, "text": {"value": "SPO11 oligos (RPM)"}}}
]
},
{
"width": 457, "height": 287,
"resolve": {"axis": {"x": "independent", "y": "independent"}},
"layer": [
{"data": {"name": "bands19"}, "mark": {"type": "rect", "color": "#f9e6c8"},
 "encoding": {"x": {"field": "lo", "type": "quantitative", "scale": {"domain": [-1700, 3500], "nice": false, "zero": false}, "axis": null}, "x2": {"field": "hi"},
 "y": {"datum": 14.96, "type": "quantitative", "scale": {"domain": [-8, 14.96], "nice": false, "zero": false}, "axis": {"values": [0,2,4,6,8,10,12], "labelExpr": "datum.value % 4 === 0 ? datum.label : ''", "domain": false, "grid": false, "title": null, "tickSize": 4, "tickColor": "#222", "tickWidth": 1.2, "labelPadding": 3, "labelFontSize": 14, "labelColor": "#222", "labelOverlap": false}},
 "y2": {"datum": -8}}},
{"data": {"name": "arc19"}, "transform": [{"filter": "datum.cat === 'blue'"}], "mark": {"type": "point", "shape": "M0 0C0 0.431 0.448 0.78 1 0.78C1.552 0.78 2 0.431 2 0", "filled": false, "color": "#5a60b5", "opacity": 0.45, "strokeWidth": 1.2},
 "encoding": {"x": {"field": "start", "type": "quantitative", "axis": null}, "y": {"datum": 0, "type": "quantitative", "axis": null}, "size": {"field": "len", "type": "quantitative", "scale": {"type": "pow", "exponent": 2, "domain": [0, 5200], "range": [0, 208849]}, "legend": null}}},
{"data": {"name": "arc19"}, "transform": [{"filter": "datum.cat === 'red'"}], "mark": {"type": "point", "shape": "M0 0C0 0.431 0.448 0.78 1 0.78C1.552 0.78 2 0.431 2 0", "filled": false, "color": "#f04a24", "opacity": 0.5, "strokeWidth": 1.2},
 "encoding": {"x": {"field": "start", "type": "quantitative", "axis": null}, "y": {"datum": 0, "type": "quantitative", "axis": null}, "size": {"field": "len", "type": "quantitative", "scale": {"type": "pow", "exponent": 2, "domain": [0, 5200], "range": [0, 208849]}, "legend": null}}},
{"data": {"name": "sp19"}, "mark": {"type": "rule", "color": "#000", "strokeWidth": 1}, "encoding": {"x": {"field": "pos", "type": "quantitative", "axis": null}, "y": {"field": "v", "type": "quantitative", "axis": null}, "y2": {"datum": 0}}},
{"data": {"values": [{}]}, "mark": {"type": "rule", "color": "#000", "strokeWidth": 2}, "encoding": {"x": {"datum": -1500, "type": "quantitative", "axis": null}, "x2": {"datum": 3500}, "y": {"datum": 0, "type": "quantitative", "axis": null}}},
{"data": {"name": "ctr19"}, "mark": {"type": "rule", "color": "#ff2a1a", "strokeWidth": 1.3, "strokeDash": [2.5, 1.5]}, "encoding": {"x": {"field": "c", "type": "quantitative", "axis": null}, "y": {"datum": 14.96, "type": "quantitative", "axis": null}, "y2": {"datum": -8}}},
{"data": {"values": [{}]}, "mark": {"type": "rule", "color": "#222", "strokeWidth": 1.2}, "encoding": {"x": {"datum": -1700, "type": "quantitative", "axis": null}, "y": {"datum": 0, "type": "quantitative", "axis": null}, "y2": {"datum": 12}}},
{"data": {"values": [{}]}, "mark": {"type": "text", "fontSize": 15, "align": "center", "baseline": "middle"}, "encoding": {"x": {"datum": 976, "type": "quantitative", "axis": null}, "y": {"datum": 12.8, "type": "quantitative", "axis": null}, "text": {"value": "Deletions with one breakpoint within 251 bp around hotspot centers"}}},
{"data": {"values": [{}]}, "mark": {"type": "text", "fontSize": 16, "color": "#ed1c24", "align": "left", "baseline": "middle"}, "encoding": {"x": {"datum": -1500, "type": "quantitative", "axis": null}, "y": {"datum": 7.5, "type": "quantitative", "axis": null}, "text": {"value": "n=10 (17%)"}}},
{"data": {"values": [{}]}, "mark": {"type": "text", "fontSize": 16, "color": "#2e3f9e", "align": "right", "baseline": "middle"}, "encoding": {"x": {"datum": 3505, "type": "quantitative", "axis": null}, "y": {"datum": 7.5, "type": "quantitative", "axis": null}, "text": {"value": "n=16 (28%)"}}},
{"data": {"values": [{}]}, "mark": {"type": "text", "fontSize": 14.5, "angle": 270, "align": "center", "baseline": "middle"}, "encoding": {"x": {"datum": -2020, "type": "quantitative", "axis": null}, "y": {"datum": 6, "type": "quantitative", "axis": null}, "text": {"value": "SPO11 oligos (RPM)"}}}
]
},
{
"width": 457, "height": 311,
"resolve": {"axis": {"x": "independent", "y": "independent"}},
"layer": [
{"data": {"name": "bands1"}, "mark": {"type": "rect", "color": "#f9e6c8"},
 "encoding": {"x": {"field": "lo", "type": "quantitative", "scale": {"domain": [-1700, 3500], "nice": false, "zero": false}, "axis": {"values": [-1500,-1000,-500,0,500,1000,1500,2000,2500,3000,3500], "format": "d", "labelExpr": "datum.value === 3500 ? '3500 bp' : replace(datum.label, '−', '-')", "domain": false, "grid": false, "title": null, "tickSize": 5, "tickColor": "#222", "tickWidth": 1.2, "labelPadding": 2, "labelFontSize": 13.5, "labelColor": "#222", "labelFlush": false, "labelOverlap": false}}, "x2": {"field": "hi"},
 "y": {"datum": 14.96, "type": "quantitative", "scale": {"domain": [-9.92, 14.96], "nice": false, "zero": false}, "axis": {"values": [0,2,4,6,8,10,12], "labelExpr": "datum.value % 4 === 0 ? datum.label : ''", "domain": false, "grid": false, "title": null, "tickSize": 4, "tickColor": "#222", "tickWidth": 1.2, "labelPadding": 3, "labelFontSize": 14, "labelColor": "#222", "labelOverlap": false}},
 "y2": {"datum": -9.92}}},
{"data": {"name": "arc1"}, "transform": [{"filter": "datum.cat === 'neither'"}], "mark": {"type": "point", "shape": "M0 0C0 0.431 0.448 0.78 1 0.78C1.552 0.78 2 0.431 2 0", "filled": false, "color": "#444", "opacity": 0.3, "strokeWidth": 1.2},
 "encoding": {"x": {"field": "start", "type": "quantitative", "axis": null}, "y": {"datum": 0, "type": "quantitative", "axis": null}, "size": {"field": "len", "type": "quantitative", "scale": {"type": "pow", "exponent": 2, "domain": [0, 5200], "range": [0, 208849]}, "legend": null}}},
{"data": {"name": "sp1"}, "mark": {"type": "rule", "color": "#000", "strokeWidth": 1}, "encoding": {"x": {"field": "pos", "type": "quantitative", "axis": null}, "y": {"field": "v", "type": "quantitative", "axis": null}, "y2": {"datum": 0}}},
{"data": {"values": [{}]}, "mark": {"type": "rule", "color": "#000", "strokeWidth": 2}, "encoding": {"x": {"datum": -1500, "type": "quantitative", "axis": null}, "x2": {"datum": 3500}, "y": {"datum": 0, "type": "quantitative", "axis": null}}},
{"data": {"name": "ctr1"}, "mark": {"type": "rule", "color": "#ff2a1a", "strokeWidth": 1.3, "strokeDash": [2.5, 1.5]}, "encoding": {"x": {"field": "c", "type": "quantitative", "axis": null}, "y": {"datum": 14.96, "type": "quantitative", "axis": null}, "y2": {"datum": -9.92}}},
{"data": {"values": [{}]}, "mark": {"type": "rule", "color": "#222", "strokeWidth": 1.2}, "encoding": {"x": {"datum": -1700, "type": "quantitative", "axis": null}, "y": {"datum": 0, "type": "quantitative", "axis": null}, "y2": {"datum": 12}}},
{"data": {"values": [{}]}, "mark": {"type": "rule", "color": "#222", "strokeWidth": 1.2}, "encoding": {"x": {"datum": -1500, "type": "quantitative", "axis": null}, "x2": {"datum": 3500}, "y": {"datum": -9.92, "type": "quantitative", "axis": null}}},
{"data": {"values": [{}]}, "mark": {"type": "text", "fontSize": 15, "align": "center", "baseline": "middle"}, "encoding": {"x": {"datum": 973, "type": "quantitative", "axis": null}, "y": {"datum": 12.8, "type": "quantitative", "axis": null}, "text": {"value": "Deletions with both breakpoints outside 251 bp around hotspot centers"}}},
{"data": {"values": [{}]}, "mark": {"type": "text", "fontSize": 16, "color": "#4d4d4d", "align": "left", "baseline": "middle"}, "encoding": {"x": {"datum": -1500, "type": "quantitative", "axis": null}, "y": {"datum": 7.5, "type": "quantitative", "axis": null}, "text": {"value": "n=52 (39%)"}}},
{"data": {"values": [{}]}, "mark": {"type": "text", "fontSize": 15, "align": "center", "baseline": "top", "lineHeight": 19.5}, "encoding": {"x": {"datum": 0, "type": "quantitative", "axis": null}, "y": {"datum": -12.1, "type": "quantitative", "axis": null}, "text": {"value": ["251 bp around", "hotspot center", "89% of SPO11 oligos"]}}},
{"data": {"values": [{}]}, "mark": {"type": "text", "fontSize": 15, "align": "center", "baseline": "top", "lineHeight": 19.5}, "encoding": {"x": {"datum": 1825, "type": "quantitative", "axis": null}, "y": {"datum": -12.1, "type": "quantitative", "axis": null}, "text": {"value": ["251 bp around", "hotspot center", "72% of SPO11 oligos"]}}},
{"data": {"values": [{}]}, "mark": {"type": "text", "fontSize": 14.5, "angle": 270, "align": "center", "baseline": "middle"}, "encoding": {"x": {"datum": -2020, "type": "quantitative", "axis": null}, "y": {"datum": 6, "type": "quantitative", "axis": null}, "text": {"value": "SPO11 oligos (RPM)"}}}
]
},
{
"width": 457, "height": 311,
"resolve": {"axis": {"x": "independent", "y": "independent"}},
"layer": [
{"data": {"name": "bands19"}, "mark": {"type": "rect", "color": "#f9e6c8"},
 "encoding": {"x": {"field": "lo", "type": "quantitative", "scale": {"domain": [-1700, 3500], "nice": false, "zero": false}, "axis": {"values": [-1500,-1000,-500,0,500,1000,1500,2000,2500,3000,3500], "format": "d", "labelExpr": "datum.value === 3500 ? '3500 bp' : replace(datum.label, '−', '-')", "domain": false, "grid": false, "title": null, "tickSize": 5, "tickColor": "#222", "tickWidth": 1.2, "labelPadding": 2, "labelFontSize": 13.5, "labelColor": "#222", "labelFlush": false, "labelOverlap": false}}, "x2": {"field": "hi"},
 "y": {"datum": 14.96, "type": "quantitative", "scale": {"domain": [-9.92, 14.96], "nice": false, "zero": false}, "axis": {"values": [0,2,4,6,8,10,12], "labelExpr": "datum.value % 4 === 0 ? datum.label : ''", "domain": false, "grid": false, "title": null, "tickSize": 4, "tickColor": "#222", "tickWidth": 1.2, "labelPadding": 3, "labelFontSize": 14, "labelColor": "#222", "labelOverlap": false}},
 "y2": {"datum": -9.92}}},
{"data": {"name": "arc19"}, "transform": [{"filter": "datum.cat === 'neither'"}], "mark": {"type": "point", "shape": "M0 0C0 0.431 0.448 0.78 1 0.78C1.552 0.78 2 0.431 2 0", "filled": false, "color": "#444", "opacity": 0.3, "strokeWidth": 1.2},
 "encoding": {"x": {"field": "start", "type": "quantitative", "axis": null}, "y": {"datum": 0, "type": "quantitative", "axis": null}, "size": {"field": "len", "type": "quantitative", "scale": {"type": "pow", "exponent": 2, "domain": [0, 5200], "range": [0, 208849]}, "legend": null}}},
{"data": {"name": "sp19"}, "mark": {"type": "rule", "color": "#000", "strokeWidth": 1}, "encoding": {"x": {"field": "pos", "type": "quantitative", "axis": null}, "y": {"field": "v", "type": "quantitative", "axis": null}, "y2": {"datum": 0}}},
{"data": {"values": [{}]}, "mark": {"type": "rule", "color": "#000", "strokeWidth": 2}, "encoding": {"x": {"datum": -1500, "type": "quantitative", "axis": null}, "x2": {"datum": 3500}, "y": {"datum": 0, "type": "quantitative", "axis": null}}},
{"data": {"name": "ctr19"}, "mark": {"type": "rule", "color": "#ff2a1a", "strokeWidth": 1.3, "strokeDash": [2.5, 1.5]}, "encoding": {"x": {"field": "c", "type": "quantitative", "axis": null}, "y": {"datum": 14.96, "type": "quantitative", "axis": null}, "y2": {"datum": -9.92}}},
{"data": {"values": [{}]}, "mark": {"type": "rule", "color": "#222", "strokeWidth": 1.2}, "encoding": {"x": {"datum": -1700, "type": "quantitative", "axis": null}, "y": {"datum": 0, "type": "quantitative", "axis": null}, "y2": {"datum": 12}}},
{"data": {"values": [{}]}, "mark": {"type": "rule", "color": "#222", "strokeWidth": 1.2}, "encoding": {"x": {"datum": -1500, "type": "quantitative", "axis": null}, "x2": {"datum": 3500}, "y": {"datum": -9.92, "type": "quantitative", "axis": null}}},
{"data": {"values": [{}]}, "mark": {"type": "text", "fontSize": 15, "align": "center", "baseline": "middle"}, "encoding": {"x": {"datum": 976, "type": "quantitative", "axis": null}, "y": {"datum": 12.8, "type": "quantitative", "axis": null}, "text": {"value": "Deletions with both breakpoints outside 251 bp around hotspot centers"}}},
{"data": {"values": [{}]}, "mark": {"type": "text", "fontSize": 16, "color": "#4d4d4d", "align": "left", "baseline": "middle"}, "encoding": {"x": {"datum": -1500, "type": "quantitative", "axis": null}, "y": {"datum": 7.5, "type": "quantitative", "axis": null}, "text": {"value": "n=21 (36%)"}}},
{"data": {"values": [{}]}, "mark": {"type": "text", "fontSize": 15, "align": "center", "baseline": "top", "lineHeight": 19.5}, "encoding": {"x": {"datum": 0, "type": "quantitative", "axis": null}, "y": {"datum": -12.1, "type": "quantitative", "axis": null}, "text": {"value": ["251 bp around", "hotspot center", "61% of SPO11 oligos"]}}},
{"data": {"values": [{}]}, "mark": {"type": "text", "fontSize": 15, "align": "center", "baseline": "top", "lineHeight": 19.5}, "encoding": {"x": {"datum": 1757, "type": "quantitative", "axis": null}, "y": {"datum": -12.1, "type": "quantitative", "axis": null}, "text": {"value": ["251 bp around", "hotspot center", "78% of SPO11 oligos"]}}},
{"data": {"values": [{}]}, "mark": {"type": "text", "fontSize": 14.5, "angle": 270, "align": "center", "baseline": "middle"}, "encoding": {"x": {"datum": -2020, "type": "quantitative", "axis": null}, "y": {"datum": 6, "type": "quantitative", "axis": null}, "text": {"value": "SPO11 oligos (RPM)"}}}
]
},
{
"width": 457, "height": 356,
"resolve": {"scale": {"x": "independent"}, "axis": {"x": "independent", "y": "independent"}},
"layer": [
{"data": {"name": "bdata"}, "mark": {"type": "bar"},
 "encoding": {
  "x": {"field": "grp", "type": "nominal", "sort": null, "scale": {"range": [10.4, 427.4], "paddingInner": 0.5, "paddingOuter": 0.25}, "axis": {"title": null, "domain": false, "ticks": false, "labelPadding": 6, "labelFontSize": 12, "labelAngle": 0, "labelColor": "#222", "labelExpr": "split(datum.label, '|')[1]"}},
  "xOffset": {"field": "type", "type": "nominal", "sort": ["Predicted", "Observed"], "scale": {"paddingInner": 0.3}},
  "y": {"field": "pct", "type": "quantitative", "scale": {"domain": [0, 132.3], "nice": false, "zero": true}, "axis": {"values": [0,10,20,30,40,50,60,70], "domain": false, "grid": false, "title": null, "offset": -10.4, "tickSize": 4, "tickColor": "#222", "labelPadding": 3, "labelFontSize": 12.5, "labelColor": "#222"}},
  "color": {"field": "type", "type": "nominal", "scale": {"domain": ["Predicted", "Observed"], "range": ["#231f20", "#b3b3b3"]}, "legend": null}
 }},
{"layer": [
 {"data": {"values": [{}]}, "mark": {"type": "rule", "color": "#666", "strokeDash": [2, 2], "strokeWidth": 1.2}, "encoding": {"x": {"datum": 3.1, "type": "quantitative", "scale": {"domain": [0, 6], "range": [10.4, 427.4], "nice": false, "zero": false}, "axis": null}, "y": {"datum": -7.4, "type": "quantitative", "axis": null}, "y2": {"datum": 79}}},
 {"data": {"values": [{}]}, "mark": {"type": "rule", "color": "#8a8a8a", "strokeWidth": 2}, "encoding": {"x": {"datum": 0.174, "type": "quantitative", "axis": null}, "x2": {"datum": 2.97}, "y": {"datum": 71, "type": "quantitative", "axis": null}}},
 {"data": {"values": [{}]}, "mark": {"type": "rule", "color": "#8a8a8a", "strokeWidth": 2}, "encoding": {"x": {"datum": 3.21, "type": "quantitative", "axis": null}, "x2": {"datum": 5.84}, "y": {"datum": 71, "type": "quantitative", "axis": null}}},
 {"data": {"values": [{}]}, "mark": {"type": "rule", "color": "#222", "strokeWidth": 1.2}, "encoding": {"x": {"datum": 0, "type": "quantitative", "axis": null}, "y": {"datum": 0, "type": "quantitative", "axis": null}, "y2": {"datum": 70}}},
 {"data": {"values": [{}]}, "mark": {"type": "rule", "color": "#222", "strokeWidth": 1.2}, "encoding": {"x": {"datum": 0, "type": "quantitative", "axis": null}, "x2": {"datum": 5.9}, "y": {"datum": 0, "type": "quantitative", "axis": null}}},
 {"data": {"values": [{}]}, "mark": {"type": "text", "fontSize": 25, "align": "left", "baseline": "alphabetic"}, "encoding": {"x": {"datum": -0.619, "type": "quantitative", "axis": null}, "y": {"datum": 82.9, "type": "quantitative", "axis": null}, "text": {"value": "B"}}},
 {"data": {"values": [{}]}, "mark": {"type": "text", "fontSize": 17, "align": "center", "baseline": "middle"}, "encoding": {"x": {"datum": 1.462, "type": "quantitative", "axis": null}, "y": {"datum": 75.6, "type": "quantitative", "axis": null}, "text": {"value": "Chr1"}}},
 {"data": {"values": [{}]}, "mark": {"type": "text", "fontSize": 17, "align": "center", "baseline": "middle"}, "encoding": {"x": {"datum": 4.42, "type": "quantitative", "axis": null}, "y": {"datum": 75.6, "type": "quantitative", "axis": null}, "text": {"value": "Chr19"}}},
 {"data": {"values": [{}]}, "mark": {"type": "point", "shape": "square", "filled": true, "size": 130, "color": "#231f20", "opacity": 1}, "encoding": {"x": {"datum": 5.26, "type": "quantitative", "axis": null}, "y": {"datum": 62.8, "type": "quantitative", "axis": null}}},
 {"data": {"values": [{}]}, "mark": {"type": "point", "shape": "square", "filled": true, "size": 130, "color": "#b3b3b3", "opacity": 1}, "encoding": {"x": {"datum": 5.26, "type": "quantitative", "axis": null}, "y": {"datum": 49.1, "type": "quantitative", "axis": null}}},
 {"data": {"values": [{}]}, "mark": {"type": "text", "fontSize": 14, "align": "left", "baseline": "middle"}, "encoding": {"x": {"datum": 5.4, "type": "quantitative", "axis": null}, "y": {"datum": 62.8, "type": "quantitative", "axis": null}, "text": {"value": "Predicted"}}},
 {"data": {"values": [{}]}, "mark": {"type": "text", "fontSize": 14, "align": "left", "baseline": "middle"}, "encoding": {"x": {"datum": 5.4, "type": "quantitative", "axis": null}, "y": {"datum": 56.4, "type": "quantitative", "axis": null}, "text": {"value": "(SPO11 oligos)"}}},
 {"data": {"values": [{}]}, "mark": {"type": "text", "fontSize": 14, "align": "left", "baseline": "middle"}, "encoding": {"x": {"datum": 5.4, "type": "quantitative", "axis": null}, "y": {"datum": 49.1, "type": "quantitative", "axis": null}, "text": {"value": "Observed"}}},
 {"data": {"values": [{}]}, "mark": {"type": "text", "fontSize": 16, "angle": 270, "align": "center", "baseline": "middle"}, "encoding": {"x": {"datum": -0.544, "type": "quantitative", "axis": null}, "y": {"datum": 34.7, "type": "quantitative", "axis": null}, "text": {"value": "Deletions (%)"}}}
]}
]
},
{
"width": 457, "height": 377,
"resolve": {"axis": {"x": "independent", "y": "independent"}},
"layer": [
{"data": {"name": "bands19"}, "mark": {"type": "rect", "color": "#f9e6c8"},
 "encoding": {"x": {"field": "lo", "type": "quantitative", "scale": {"domain": [-1700, 3500], "nice": false, "zero": false}, "axis": {"values": [-1500,-1000,-500,0,500,1000,1500,2000,2500,3000,3500], "format": "d", "labelExpr": "datum.value === 3500 ? '3500 bp' : replace(datum.label, '−', '-')", "domain": false, "grid": false, "title": null, "tickSize": 5, "tickColor": "#222", "tickWidth": 1.2, "labelPadding": 2, "labelFontSize": 13.5, "labelColor": "#222", "labelFlush": false, "labelOverlap": false}}, "x2": {"field": "hi"},
 "y": {"datum": 10.19, "type": "quantitative", "scale": {"domain": [-8.63, 21.87], "nice": false, "zero": false}, "axis": {"values": [0,2,4,6,8,10,12], "labelExpr": "datum.value % 4 === 0 ? datum.label : ''", "domain": false, "grid": false, "title": null, "tickSize": 4, "tickColor": "#222", "tickWidth": 1.2, "labelPadding": 3, "labelFontSize": 14, "labelColor": "#222", "labelOverlap": false}},
 "y2": {"datum": -8.63}}},
{"data": {"name": "arcC"}, "mark": {"type": "point", "shape": "M0 0C0 0.431 0.448 0.78 1 0.78C1.552 0.78 2 0.431 2 0", "filled": false, "color": "#555", "opacity": 0.35, "strokeWidth": 1.2},
 "encoding": {"x": {"field": "start", "type": "quantitative", "axis": null}, "y": {"datum": 0, "type": "quantitative", "axis": null}, "size": {"field": "len", "type": "quantitative", "scale": {"type": "pow", "exponent": 2, "domain": [0, 5200], "range": [0, 208849]}, "legend": null}}},
{"data": {"name": "sp19"}, "mark": {"type": "rule", "color": "#000", "strokeWidth": 1}, "encoding": {"x": {"field": "pos", "type": "quantitative", "axis": null}, "y": {"field": "v", "type": "quantitative", "axis": null}, "y2": {"datum": 0}}},
{"data": {"values": [{}]}, "mark": {"type": "rule", "color": "#000", "strokeWidth": 2}, "encoding": {"x": {"datum": -1500, "type": "quantitative", "axis": null}, "x2": {"datum": 3500}, "y": {"datum": 0, "type": "quantitative", "axis": null}}},
{"data": {"name": "ctr19"}, "mark": {"type": "rule", "color": "#ff2a1a", "strokeWidth": 1.3, "strokeDash": [2.5, 1.5]}, "encoding": {"x": {"field": "c", "type": "quantitative", "axis": null}, "y": {"datum": 10.19, "type": "quantitative", "axis": null}, "y2": {"datum": -8.63}}},
{"data": {"values": [{}]}, "mark": {"type": "rule", "color": "#222", "strokeWidth": 1.2}, "encoding": {"x": {"datum": -1700, "type": "quantitative", "axis": null}, "y": {"datum": 0, "type": "quantitative", "axis": null}, "y2": {"datum": 12}}},
{"data": {"values": [{}]}, "mark": {"type": "rule", "color": "#222", "strokeWidth": 1.2}, "encoding": {"x": {"datum": -1500, "type": "quantitative", "axis": null}, "x2": {"datum": 3500}, "y": {"datum": -8.63, "type": "quantitative", "axis": null}}},
{"data": {"values": [{}]}, "mark": {"type": "text", "fontSize": 25, "align": "left", "baseline": "alphabetic"}, "encoding": {"x": {"datum": -2098, "type": "quantitative", "axis": null}, "y": {"datum": 13.7, "type": "quantitative", "axis": null}, "text": {"value": "C"}}},
{"data": {"values": [{}]}, "mark": {"type": "text", "fontSize": 19.8, "align": "left", "baseline": "middle"}, "encoding": {"x": {"datum": -1172, "type": "quantitative", "axis": null}, "y": {"datum": 11.86, "type": "quantitative", "axis": null}, "text": {"value": "Deletions in sperm/testis in"}}},
{"data": {"values": [{}]}, "mark": {"type": "text", "fontSize": 19.8, "fontStyle": "italic", "align": "left", "baseline": "middle"}, "encoding": {"x": {"datum": 1630, "type": "quantitative", "axis": null}, "y": {"datum": 11.86, "type": "quantitative", "axis": null}, "text": {"value": "Atm"}}},
{"data": {"values": [{}]}, "mark": {"type": "text", "fontSize": 12.5, "align": "left", "baseline": "middle"}, "encoding": {"x": {"datum": 2040, "type": "quantitative", "axis": null}, "y": {"datum": 12.36, "type": "quantitative", "axis": null}, "text": {"value": "+/+"}}},
{"data": {"values": [{}]}, "mark": {"type": "text", "fontSize": 19.8, "align": "left", "baseline": "middle"}, "encoding": {"x": {"datum": 2270, "type": "quantitative", "axis": null}, "y": {"datum": 11.86, "type": "quantitative", "axis": null}, "text": {"value": "or"}}},
{"data": {"values": [{}]}, "mark": {"type": "text", "fontSize": 19.8, "fontStyle": "italic", "align": "left", "baseline": "middle"}, "encoding": {"x": {"datum": 2578, "type": "quantitative", "axis": null}, "y": {"datum": 11.86, "type": "quantitative", "axis": null}, "text": {"value": "Atm"}}},
{"data": {"values": [{}]}, "mark": {"type": "text", "fontSize": 12.5, "align": "left", "baseline": "middle"}, "encoding": {"x": {"datum": 2988, "type": "quantitative", "axis": null}, "y": {"datum": 12.36, "type": "quantitative", "axis": null}, "text": {"value": "+/−"}}},
{"data": {"values": [{}]}, "mark": {"type": "text", "fontSize": 21, "align": "left", "baseline": "middle"}, "encoding": {"x": {"datum": -1500, "type": "quantitative", "axis": null}, "y": {"datum": 8.76, "type": "quantitative", "axis": null}, "text": {"value": "Chr19"}}},
{"data": {"values": [{}]}, "mark": {"type": "text", "fontSize": 18, "fontWeight": "bold", "color": "#29abe2", "align": "center", "baseline": "middle"}, "encoding": {"x": {"datum": 1476, "type": "quantitative", "axis": null}, "y": {"datum": 1.28, "type": "quantitative", "axis": null}, "text": {"value": "*"}}},
{"data": {"values": [{}]}, "mark": {"type": "text", "fontSize": 16, "align": "left", "baseline": "middle"}, "encoding": {"x": {"datum": -613, "type": "quantitative", "axis": null}, "y": {"datum": -11.12, "type": "quantitative", "axis": null}, "text": {"value": "Position relative to"}}},
{"data": {"values": [{}]}, "mark": {"type": "text", "fontSize": 16, "fontStyle": "italic", "align": "left", "baseline": "middle"}, "encoding": {"x": {"datum": 923, "type": "quantitative", "axis": null}, "y": {"datum": -11.12, "type": "quantitative", "axis": null}, "text": {"value": "Atm"}}},
{"data": {"values": [{}]}, "mark": {"type": "text", "fontSize": 10, "align": "left", "baseline": "middle"}, "encoding": {"x": {"datum": 1280, "type": "quantitative", "axis": null}, "y": {"datum": -10.9, "type": "quantitative", "axis": null}, "text": {"value": "−/−"}}},
{"data": {"values": [{}]}, "mark": {"type": "text", "fontSize": 16, "align": "left", "baseline": "middle"}, "encoding": {"x": {"datum": 1510, "type": "quantitative", "axis": null}, "y": {"datum": -11.12, "type": "quantitative", "axis": null}, "text": {"value": "hotspot center"}}},
{"data": {"values": [{}]}, "mark": {"type": "text", "fontSize": 14.5, "angle": 270, "align": "center", "baseline": "middle"}, "encoding": {"x": {"datum": -2020, "type": "quantitative", "axis": null}, "y": {"datum": 6, "type": "quantitative", "axis": null}, "text": {"value": "SPO11 oligos (RPM)"}}}
]
}
]
}
